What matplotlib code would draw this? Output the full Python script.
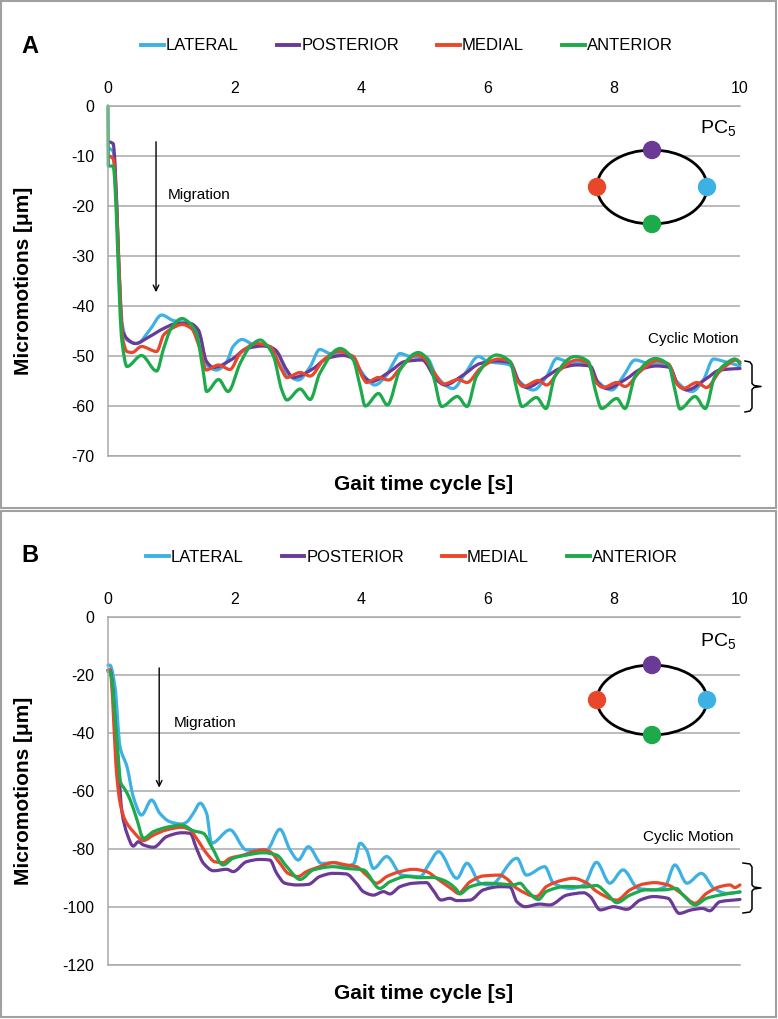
import matplotlib
matplotlib.use('Agg')
import matplotlib.pyplot as plt
from matplotlib.patches import Ellipse, Rectangle, Circle, PathPatch
from matplotlib.path import Path
from matplotlib.lines import Line2D

plt.rcParams['font.family'] = ['Liberation Sans', 'DejaVu Sans']
plt.rcParams['mathtext.fontset'] = 'custom'
plt.rcParams['mathtext.rm'] = 'Liberation Sans'
plt.rcParams['mathtext.it'] = 'Liberation Sans:italic'
plt.rcParams['axes.unicode_minus'] = False

# ---------------- data (time [s], micromotion [um]) ----------------
SERIES = ['LATERAL', 'POSTERIOR', 'MEDIAL', 'ANTERIOR']
X_TICKS = [0, 2, 4, 6, 8, 10]
A_Y_TICKS = [0, -10, -20, -30, -40, -50, -60, -70]
B_Y_TICKS = [0, -20, -40, -60, -80, -100, -120]

A_LATERAL = [(0.02, -8.5), (0.08, -9), (0.23, -44), (0.30, -46.8), (0.46, -47.5), (0.66, -44.8),
             (0.85, -41.8), (1.03, -42.9), (1.30, -43.5), (1.46, -46.1), (1.56, -51.8), (1.72, -52.8),
             (1.88, -51.1), (1.98, -48.1), (2.12, -46.7), (2.30, -47.7), (2.56, -48.1), (2.69, -49.5),
             (2.83, -53.5), (3.01, -54.8), (3.20, -52.1), (3.35, -48.7), (3.51, -49.5), (3.88, -50.1),
             (3.96, -52.1), (4.09, -54.5), (4.22, -55.8), (4.41, -53.8), (4.51, -51.5), (4.62, -49.5),
             (4.78, -50.1), (5.05, -50.5), (5.20, -54.1), (5.46, -56.5), (5.65, -53.5), (5.86, -50.1),
             (6.01, -51.1), (6.36, -51.8), (6.49, -54.8), (6.73, -56.8), (6.94, -54.1), (7.10, -50.5),
             (7.26, -51.1), (7.60, -51.8), (7.73, -54.8), (7.97, -56.8), (8.15, -54.1), (8.34, -50.8),
             (8.55, -51.5), (8.87, -51.8), (9.00, -55.1), (9.24, -57.1), (9.42, -54.8), (9.58, -50.6),
             (9.75, -51.1), (10.0, -52.0)]
A_POSTERIOR = [(0.03, -7.2), (0.08, -7.5), (0.23, -45), (0.30, -46.5), (0.43, -47.5), (0.66, -46.1),
               (0.88, -44.5), (1.09, -43.5), (1.30, -43.5), (1.43, -44.8), (1.56, -51.1), (1.67, -52.3),
               (1.98, -50.5), (2.19, -48.5), (2.46, -48.0), (2.64, -48.7), (2.83, -52.8), (2.93, -54.3),
               (3.25, -52.5), (3.46, -50.5), (3.72, -49.9), (3.88, -50.5), (4.04, -54.1), (4.17, -55.1),
               (4.46, -53.1), (4.70, -51.1), (4.97, -50.8), (5.20, -54.8), (5.33, -55.8), (5.62, -53.8),
               (5.89, -51.5), (6.15, -51.0), (6.36, -51.3), (6.52, -55.5), (6.62, -56.3), (6.94, -54.1),
               (7.15, -52.5), (7.42, -51.8), (7.63, -52.0), (7.76, -55.5), (7.89, -56.5), (8.21, -54.5),
               (8.42, -52.7), (8.68, -52.0), (8.89, -52.3), (9.02, -55.8), (9.16, -56.8), (9.47, -54.5),
               (9.68, -52.8), (10.0, -52.5)]
A_MEDIAL = [(0.02, -10), (0.08, -10.5), (0.24, -47), (0.30, -49.1), (0.38, -49.3), (0.53, -48.1),
            (0.77, -49.1), (0.88, -45.8), (1.01, -44.5), (1.17, -43.7), (1.32, -44.5), (1.46, -48.8),
            (1.55, -52.8), (1.75, -51.8), (1.93, -52.7), (2.09, -49.5), (2.35, -47.5), (2.56, -48.1),
            (2.75, -52.8), (2.83, -54.3), (3.04, -53.3), (3.20, -54.0), (3.41, -50.8), (3.64, -49.1),
            (3.88, -50.1), (4.04, -54.5), (4.09, -55.3), (4.28, -54.3), (4.44, -54.8), (4.62, -52.5),
            (4.88, -49.8), (5.00, -50.4), (5.15, -53.1), (5.31, -55.6), (5.54, -54.7), (5.68, -55.3),
            (5.89, -52.5), (6.18, -50.6), (6.36, -51.1), (6.47, -54.8), (6.57, -56.1), (6.81, -54.9),
            (6.94, -55.8), (7.15, -52.8), (7.42, -50.8), (7.60, -51.5), (7.71, -55.1), (7.84, -56.3),
            (8.05, -55.3), (8.18, -56.1), (8.42, -53.1), (8.68, -51.0), (8.87, -51.6), (9.00, -55.5),
            (9.10, -56.5), (9.32, -55.3), (9.47, -56.3), (9.68, -53.1), (9.95, -50.8), (10.0, -51.2)]
A_ANTERIOR = [(0.0, 0), (0.005, -12), (0.08, -12), (0.22, -47), (0.30, -52.1), (0.53, -49.9),
              (0.77, -53), (0.88, -48.5), (1.00, -44.5), (1.17, -42.5), (1.30, -43.5), (1.40, -45.5),
              (1.51, -53.4), (1.56, -57.1), (1.75, -54.7), (1.90, -57.1), (2.09, -51.5), (2.25, -48.1),
              (2.41, -46.8), (2.51, -47.8), (2.62, -50.1), (2.75, -56.8), (2.83, -58.8), (3.04, -56.6),
              (3.20, -58.7), (3.35, -53.5), (3.67, -48.5), (3.88, -50.8), (3.99, -56.1), (4.07, -60.0),
              (4.28, -57.5), (4.42, -59.8), (4.62, -52.8), (4.91, -49.3), (5.05, -50.5), (5.15, -54.1),
              (5.28, -60.1), (5.53, -58.1), (5.68, -60.1), (5.83, -54.1), (6.15, -49.8), (6.36, -51.1),
              (6.47, -56.8), (6.55, -60.1), (6.78, -58.3), (6.93, -60.5), (7.07, -54.1), (7.39, -50.1),
              (7.60, -51.1), (7.71, -56.8), (7.81, -60.5), (8.05, -58.5), (8.18, -60.5), (8.34, -54.1),
              (8.66, -50.5), (8.87, -51.8), (8.97, -56.8), (9.05, -60.6), (9.29, -58.1), (9.45, -60.5),
              (9.60, -54.1), (9.75, -51.8), (9.92, -50.6), (10.0, -51.5)]

B_LATERAL = [(0.0, -16.6), (0.03, -16.6), (0.11, -24), (0.19, -44.7), (0.30, -51.6), (0.40, -62),
             (0.53, -68.3), (0.69, -63.1), (0.82, -67.7), (0.98, -70.6), (1.17, -71.4), (1.25, -70.6),
             (1.35, -67.7), (1.46, -64.2), (1.56, -67.7), (1.64, -78.0), (1.93, -73.4), (2.19, -80.3),
             (2.51, -80.3), (2.72, -73.2), (2.88, -80.3), (3.01, -83.8), (3.17, -79.2), (3.38, -85.0),
             (3.59, -84.7), (3.75, -86.1), (3.89, -85.0), (3.99, -78.0), (4.09, -80.3), (4.20, -86.7),
             (4.41, -82.6), (4.65, -89.0), (4.94, -89.5), (5.07, -85.5), (5.23, -80.9), (5.52, -90.1),
             (5.68, -84.9), (5.89, -91.8), (6.05, -92.4), (6.47, -83.2), (6.62, -89.0), (6.91, -86.1),
             (7.05, -91.8), (7.32, -93.6), (7.53, -92.4), (7.73, -84.6), (7.94, -91.8), (8.15, -87.2),
             (8.39, -93.6), (8.65, -94.1), (8.81, -93.0), (8.97, -85.5), (9.16, -91.8), (9.39, -88.4),
             (9.59, -93.6), (9.79, -95.3), (10.0, -94.8)]
B_POSTERIOR = [(0.0, -18.3), (0.03, -18.3), (0.16, -50), (0.22, -67.1), (0.30, -74.6), (0.40, -79.0),
               (0.48, -77.5), (0.56, -78.6), (0.72, -79.4), (0.93, -75.7), (1.17, -74.4), (1.30, -74.6),
               (1.40, -79.8), (1.51, -84.9), (1.67, -87.5), (1.88, -87.0), (1.98, -87.8), (2.19, -84.4),
               (2.40, -83.6), (2.56, -83.8), (2.67, -88.4), (2.80, -91.8), (2.99, -92.4), (3.17, -92.2),
               (3.35, -89.5), (3.56, -88.4), (3.77, -88.6), (3.93, -91.8), (4.04, -94.7), (4.20, -95.9),
               (4.36, -94.7), (4.46, -95.5), (4.62, -93.0), (4.83, -91.8), (5.04, -91.6), (5.14, -94.1),
               (5.27, -97.6), (5.41, -97.0), (5.52, -97.8), (5.73, -97.6), (5.94, -94.1), (6.20, -93.0),
               (6.36, -93.1), (6.47, -98.2), (6.60, -99.9), (6.83, -99.0), (6.99, -99.3), (7.26, -95.9),
               (7.53, -95.1), (7.63, -96.4), (7.79, -101.0), (8.00, -99.9), (8.21, -100.8), (8.42, -97.6),
               (8.63, -96.4), (8.86, -97.0), (9.04, -102.2), (9.23, -101.0), (9.41, -100.5), (9.52, -101.3),
               (9.68, -98.2), (10.0, -97.4)]
B_MEDIAL = [(0.0, -18.3), (0.03, -18.3), (0.14, -55), (0.19, -64), (0.27, -70), (0.40, -74),
            (0.56, -77.1), (0.72, -75.2), (0.93, -73.4), (1.17, -72.5), (1.30, -73.4), (1.40, -76.3),
            (1.56, -81.5), (1.69, -84.4), (1.82, -84.7), (1.93, -83.2), (2.14, -82.1), (2.30, -80.9),
            (2.46, -80.3), (2.56, -80.9), (2.72, -84.9), (2.85, -88.4), (3.01, -89.5), (3.14, -87.8),
            (3.35, -86.1), (3.56, -84.7), (3.77, -85.5), (3.93, -86.1), (4.09, -89.0), (4.25, -91.8),
            (4.41, -89.5), (4.62, -87.8), (4.83, -87.0), (5.04, -87.8), (5.20, -90.1), (5.31, -91.8),
            (5.46, -94.1), (5.54, -95.3), (5.73, -91.3), (5.94, -89.3), (6.20, -89.0), (6.30, -90.1),
            (6.47, -93.6), (6.78, -96.4), (6.94, -92.9), (7.20, -90.7), (7.36, -90.1), (7.58, -91.8),
            (7.73, -94.6), (8.05, -97.6), (8.26, -94.1), (8.47, -92.1), (8.65, -91.6), (8.86, -92.4),
            (9.07, -95.3), (9.29, -98.7), (9.47, -95.3), (9.68, -93.0), (9.84, -92.4), (9.92, -93.3),
            (10.0, -92.4)]
B_ANTERIOR = [(0.0, -18.8), (0.03, -18.8), (0.15, -45), (0.20, -57), (0.27, -59.5), (0.35, -63),
              (0.46, -70), (0.56, -76.3), (0.72, -74.0), (0.93, -72.5), (1.17, -71.7), (1.35, -73.7),
              (1.51, -74.6), (1.64, -79.2), (1.82, -85.5), (1.98, -83.2), (2.19, -82.1), (2.46, -81.3),
              (2.67, -82.1), (2.83, -86.1), (3.04, -90.5), (3.25, -87.2), (3.56, -86.1), (3.77, -86.7),
              (4.04, -87.2), (4.30, -93.6), (4.46, -91.3), (4.73, -89.5), (4.94, -89.9), (5.14, -89.8),
              (5.30, -90.7), (5.52, -94.1), (5.56, -95.5), (5.73, -93.0), (6.00, -91.8), (6.25, -92.1),
              (6.41, -92.4), (6.52, -91.8), (6.62, -94.1), (6.81, -97.4), (6.94, -94.6), (7.26, -92.9),
              (7.53, -93.1), (7.73, -92.6), (7.89, -95.3), (8.05, -98.5), (8.26, -95.9), (8.52, -94.1),
              (8.78, -94.1), (8.99, -93.6), (9.10, -95.9), (9.29, -99.3), (9.47, -97.0), (9.68, -95.9),
              (10.0, -94.8)]

COLORS = {'LATERAL': '#3EB1E4', 'POSTERIOR': '#6B3A97', 'MEDIAL': '#E9472B', 'ANTERIOR': '#1DAA4B'}
GRID = '#A8A8A8'

# ---------------- figure ----------------
W, H = 778, 1019
fig = plt.figure(figsize=(W / 100, H / 100), dpi=100)


def fy(py):
    return 1 - py / H


def smooth_path(pts):
    """Smoothed line through the read points (monotone cubic Bezier segments)."""
    n = len(pts)
    hs = [pts[i + 1][0] - pts[i][0] for i in range(n - 1)]
    ds = [(pts[i + 1][1] - pts[i][1]) / hs[i] for i in range(n - 1)]
    m = [0.0] * n
    m[0], m[-1] = ds[0], ds[-1]
    for i in range(1, n - 1):
        d0, d1 = ds[i - 1], ds[i]
        if d0 * d1 <= 0:
            m[i] = 0.0
        else:
            w1 = 2 * hs[i] + hs[i - 1]
            w2 = hs[i] + 2 * hs[i - 1]
            m[i] = (w1 + w2) / (w1 / d0 + w2 / d1)
    verts = [pts[0]]
    codes = [Path.MOVETO]
    for i in range(n - 1):
        (t0, v0), (t1, v1) = pts[i], pts[i + 1]
        h = hs[i] / 3.0
        verts += [(t0 + h, v0 + m[i] * h), (t1 - h, v1 - m[i + 1] * h), (t1, v1)]
        codes += [Path.CURVE4] * 3
    return Path(verts, codes)


def make_panel(top_px, bot_px, data, yticks, arrow, mig_xy, cyc_xy):
    ax = fig.add_axes([108 / W, fy(bot_px), 632 / W, (bot_px - top_px) / H])
    ax.patch.set_alpha(0)
    ax.set_xlim(0, 10)
    ax.set_ylim(min(yticks), 0)
    ax.xaxis.tick_top()
    ax.set_xticks(X_TICKS)
    ax.set_yticks(yticks)
    ax.tick_params(length=0, labelsize=11.5)
    ax.tick_params(axis='x', pad=7)
    ax.tick_params(axis='y', pad=10)
    ax.grid(axis='y', color=GRID, lw=1.1)
    ax.set_axisbelow(True)
    ax.spines['right'].set_visible(False)
    for s in ['top', 'bottom', 'left']:
        ax.spines[s].set_color(GRID)
        ax.spines[s].set_linewidth(1.1)
    ax.xaxis.set_label_position('bottom')
    ax.set_xlabel('Gait time cycle [s]', fontsize=15, fontweight='bold', labelpad=14)
    ax.set_ylabel('Micromotions [μm]', fontsize=15, fontweight='bold')
    ax.yaxis.set_label_coords(-0.118, 0.5)
    for name, pts in zip(SERIES, data):
        ax.add_patch(PathPatch(smooth_path(pts), fill=False, ec=COLORS[name], lw=2.3,
                               joinstyle='round', capstyle='round', label=name, clip_on=False))
    ax.annotate('', xy=(arrow[0], arrow[2]), xytext=(arrow[0], arrow[1]),
                arrowprops=dict(arrowstyle='->', color='black', lw=1.0, mutation_scale=10))
    ax.text(mig_xy[0], mig_xy[1], 'Migration', fontsize=11, ha='left', va='center')
    ax.text(cyc_xy[0], cyc_xy[1], 'Cyclic Motion', fontsize=11, ha='right', va='center')
    return ax


axA = make_panel(106, 456, [A_LATERAL, A_POSTERIOR, A_MEDIAL, A_ANTERIOR], A_Y_TICKS,
                 (0.76, -6.6, -37.8), (0.95, -17.8), (9.98, -46.6))
axB = make_panel(617, 965, [B_LATERAL, B_POSTERIOR, B_MEDIAL, B_ANTERIOR], B_Y_TICKS,
                 (0.81, -16.6, -59.8), (1.04, -36.6), (9.89, -75.9))

leg_kw = dict(loc='center', ncol=4, frameon=False, fontsize=12, handlelength=1.35,
              handletextpad=0.12, columnspacing=2.3)
for cx, cy in [(407, 46), (412, 557)]:
    lh = [Line2D([], [], color=COLORS[n], lw=2.8) for n in SERIES]
    fig.legend(lh, SERIES, bbox_to_anchor=(cx / W, fy(cy)), **leg_kw)

# ---------------- overlay (panel frames, braces, schematic) ----------------
ov = fig.add_axes([0, 0, 1, 1], zorder=5)
ov.set_xlim(0, W)
ov.set_ylim(H, 0)
ov.axis('off')
ov.patch.set_alpha(0)

for y0, y1 in [(1, 508), (511, 1017)]:
    ov.add_patch(Rectangle((1, y0), 775, y1 - y0, fill=False, ec='#A0A0A0', lw=1.5))

ov.text(30, 46, 'A', fontsize=17, fontweight='bold', ha='center', va='center')
ov.text(30, 555, 'B', fontsize=17, fontweight='bold', ha='center', va='center')


def brace(top, bot, x0=745, xm=752, xt=761):
    mid = (top + bot) / 2
    xs = [x0, xm - 2, xm, xm, xm + 2, xt, xm + 2, xm, xm, xm - 2, x0]
    ys = [top, top + 1, top + 4, mid - 3, mid - 1, mid, mid + 1, mid + 3, bot - 4, bot - 1, bot]
    ov.plot(xs, ys, color='black', lw=1.1, solid_joinstyle='round')


brace(361, 412)
brace(863, 913, x0=743)


def schematic(cx, cy, w, h, pc_y):
    ov.add_patch(Ellipse((cx, cy), w, h, fc='white', ec='black', lw=2.0, zorder=2))
    r = 8.5
    for (dx, dy), name in [((0, -h / 2), 'POSTERIOR'), ((-w / 2, 0), 'MEDIAL'),
                           ((w / 2, 0), 'LATERAL'), ((0, h / 2), 'ANTERIOR')]:
        ov.add_patch(Circle((cx + dx, cy + dy), r, color=COLORS[name], zorder=3))
    ov.text(736, pc_y, r'PC$_{\mathrm{5}}$', fontsize=14, ha='right', va='center')


schematic(652, 187, 110, 74, 128)
schematic(652, 700, 110, 70, 641)

fig.savefig('out.png', dpi=100)
